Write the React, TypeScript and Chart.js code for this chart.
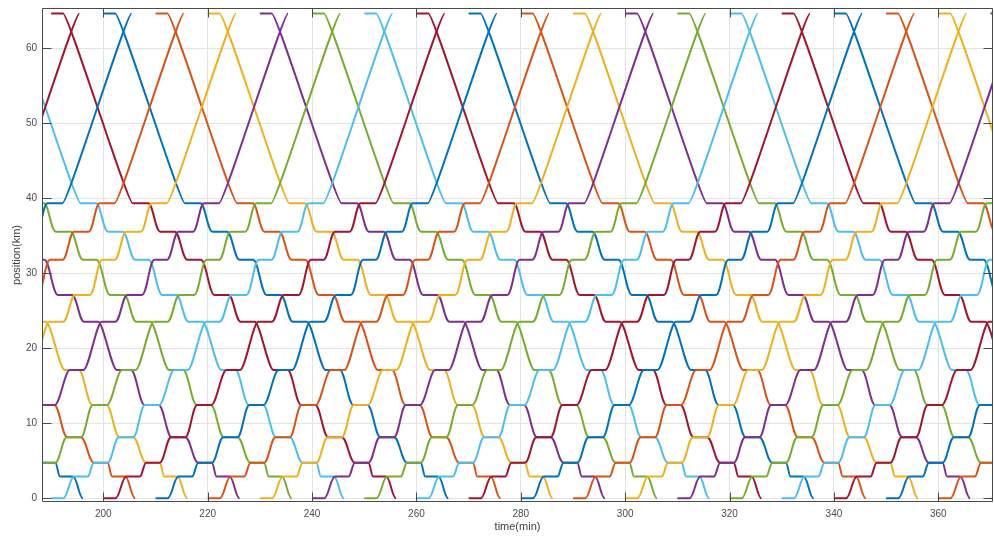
import { useEffect, useRef } from 'react';
import { Chart, registerables } from 'chart.js';

Chart.register(...registerables);

// Station positions (km), from origin (0) to terminus
const stationKm = [0, 2.9, 4.75, 8.15, 12.45, 17.1, 23.55, 27.1, 31.8, 35.55, 39.35, 64.65];

// Up direction timetable: minutes after the train's start at km 0 (null = none)
const upArrive = [0, 4.4, 8.2, 13.0, 18.0, 23.6, 29.7, 34.6, 39.8, 44.4, 49.3, 65.4];
const upDepart = [2.3, 7.0, 10.8, 15.7, 20.7, 26.2, 32.3, 37.4, 42.2, 47.2, 52.2, null];

// Down direction timetable: minutes after the train's start at the terminus (indexed by station)
const downArrive = [66.1, 61.7, 58.2, 53.1, 47.9, 42.6, 36.3, 31.3, 26.1, 20.9, 15.6, 0];
const downDepart = [null, 64.2, 60.8, 55.7, 50.6, 45.3, 39.0, 34.0, 28.7, 23.7, 18.6, 2.3];

// Start times of the trains (min)
const upStartTimes = [130, 140, 150, 160, 170, 180, 190, 200, 210, 220, 230, 240, 250, 260, 270, 280, 290, 300, 310, 320, 330, 340, 350, 360, 370];
const downStartTimes = [130, 140, 150, 160, 170, 180, 190, 200, 210, 220, 230, 240, 250, 260, 270, 280, 290, 300, 310, 320, 330, 340, 350, 360, 370];

// Axis ticks
const xTickValues = [200, 220, 240, 260, 280, 300, 320, 340, 360];
const yTickValues = [0, 10, 20, 30, 40, 50, 60];

const palette = ['#0072BD', '#D95319', '#EDB120', '#7E2F8E', '#77AC30', '#4DBEEE', '#A2142F'];
const FONT = "'Liberation Sans', Arial, Helvetica, sans-serif";
const ROUND_MIN = 1.0; // corner rounding of the run curves, in minutes

function upPoints(start: number) {
  const pts: { x: number; y: number }[] = [];
  for (let i = 0; i < stationKm.length; i++) {
    const a = upArrive[i];
    const d = upDepart[i];
    if (a !== null) pts.push({ x: start + a, y: stationKm[i] });
    if (d !== null) pts.push({ x: start + d, y: stationKm[i] });
  }
  return pts;
}

function downPoints(start: number) {
  const pts: { x: number; y: number }[] = [];
  for (let i = stationKm.length - 1; i >= 0; i--) {
    const a = downArrive[i];
    const d = downDepart[i];
    if (a !== null) pts.push({ x: start + a, y: stationKm[i] });
    if (d !== null) pts.push({ x: start + d, y: stationKm[i] });
  }
  return pts;
}

const curvePlugin = {
  id: 'runCurves',
  beforeDatasetDraw(chart: any, args: any) {
    const meta = chart.getDatasetMeta(args.index);
    const xs = chart.scales.x;
    const r = Math.abs(xs.getPixelForValue(ROUND_MIN) - xs.getPixelForValue(0));
    const pts = meta.data as any[];
    for (let i = 0; i < pts.length; i++) {
      const p = pts[i];
      const prev = pts[i - 1];
      const next = pts[i + 1];
      const hin = prev ? Math.min(0.4 * (p.x - prev.x), r) : 0;
      const hout = next ? Math.min(0.4 * (next.x - p.x), r) : 0;
      p.cp1x = p.x - hin;
      p.cp1y = p.y;
      p.cp2x = p.x + hout;
      p.cp2y = p.y;
    }
    if (meta.dataset) meta.dataset._pointsUpdated = true;
  },
};

const framePlugin = {
  id: 'frame',
  afterDatasetsDraw(chart: any) {
    const { ctx, chartArea: a, scales } = chart;
    const L = 9;
    ctx.save();
    ctx.strokeStyle = '#4a4a4a';
    ctx.lineWidth = 1;
    ctx.beginPath();
    const l = Math.round(a.left) + 0.5;
    const rgt = Math.round(a.right) - 0.5;
    const t = Math.round(a.top) + 0.5;
    const b = Math.round(a.bottom) - 0.5;
    ctx.moveTo(l, t);
    ctx.lineTo(rgt, t);
    ctx.lineTo(rgt, b);
    ctx.lineTo(l, b);
    ctx.closePath();
    for (const v of xTickValues) {
      const px = Math.round(scales.x.getPixelForValue(v)) + 0.5;
      ctx.moveTo(px, b);
      ctx.lineTo(px, b - L);
      ctx.moveTo(px, t);
      ctx.lineTo(px, t + L);
    }
    for (const v of yTickValues) {
      const py = Math.round(scales.y.getPixelForValue(v)) + 0.5;
      ctx.moveTo(l, py);
      ctx.lineTo(l + L, py);
      ctx.moveTo(rgt, py);
      ctx.lineTo(rgt - L, py);
    }
    ctx.stroke();
    ctx.restore();
  },
};

export default function App() {
  const ref = useRef<HTMLCanvasElement | null>(null);

  useEffect(() => {
    document.body.style.margin = '0';
    document.body.style.background = '#ffffff';
    const canvas = ref.current;
    if (!canvas) return;

    const datasets: any[] = [];
    upStartTimes.forEach((s) => {
      const idx = ((((s - 210) / 10) % 7) + 7) % 7;
      datasets.push({
        data: upPoints(s),
        borderColor: palette[idx],
        borderWidth: 2,
        pointRadius: 0,
        fill: false,
        cubicInterpolationMode: 'monotone',
      });
    });
    downStartTimes.forEach((s) => {
      const idx = ((((s - 200) / 10) % 7) + 7) % 7;
      datasets.push({
        data: downPoints(s),
        borderColor: palette[idx],
        borderWidth: 2,
        pointRadius: 0,
        fill: false,
        cubicInterpolationMode: 'monotone',
      });
    });

    const chart = new Chart(canvas, {
      type: 'line',
      data: { datasets },
      options: {
        animation: false,
        responsive: false,
        maintainAspectRatio: false,
        devicePixelRatio: 1,
        layout: { padding: { left: 0, top: 8, right: 1, bottom: 0 } },
        plugins: {
          legend: { display: false },
          tooltip: { enabled: false },
        },
        elements: { point: { radius: 0 } },
        scales: {
          x: {
            type: 'linear',
            min: 188.25,
            max: 370.48,
            border: { display: false },
            grid: { color: '#e3e3e3', drawTicks: false, lineWidth: 1 },
            ticks: {
              padding: 6,
              color: '#4d4d4d',
              font: { family: FONT, size: 10 },
              maxRotation: 0,
              autoSkip: false,
            },
            afterBuildTicks: (scale: any) => {
              scale.ticks = xTickValues.map((v) => ({ value: v }));
            },
            afterFit: (scale: any) => {
              scale.height = 36;
              scale.paddingLeft = 0;
              scale.paddingRight = 0;
            },
            title: {
              display: true,
              text: 'time(min)',
              color: '#404040',
              font: { family: FONT, size: 11 },
              padding: { top: 0, bottom: 4 },
            },
          },
          y: {
            type: 'linear',
            min: -0.49,
            max: 65.37,
            border: { display: false },
            grid: { color: '#e3e3e3', drawTicks: false, lineWidth: 1 },
            ticks: {
              padding: 5,
              color: '#4d4d4d',
              font: { family: FONT, size: 10 },
              autoSkip: false,
            },
            afterBuildTicks: (scale: any) => {
              scale.ticks = yTickValues.map((v) => ({ value: v }));
            },
            afterFit: (scale: any) => {
              scale.width = 42;
              scale.paddingTop = 0;
              scale.paddingBottom = 0;
            },
            title: {
              display: true,
              text: 'position(km)',
              color: '#404040',
              font: { family: FONT, size: 11 },
              padding: { top: 10, bottom: 0 },
            },
          },
        },
      },
      plugins: [curvePlugin, framePlugin],
    } as any);

    return () => chart.destroy();
  }, []);

  return (
    <canvas
      ref={ref}
      width={994}
      height={538}
      style={{ display: 'block', width: '994px', height: '538px' }}
    />
  );
}
